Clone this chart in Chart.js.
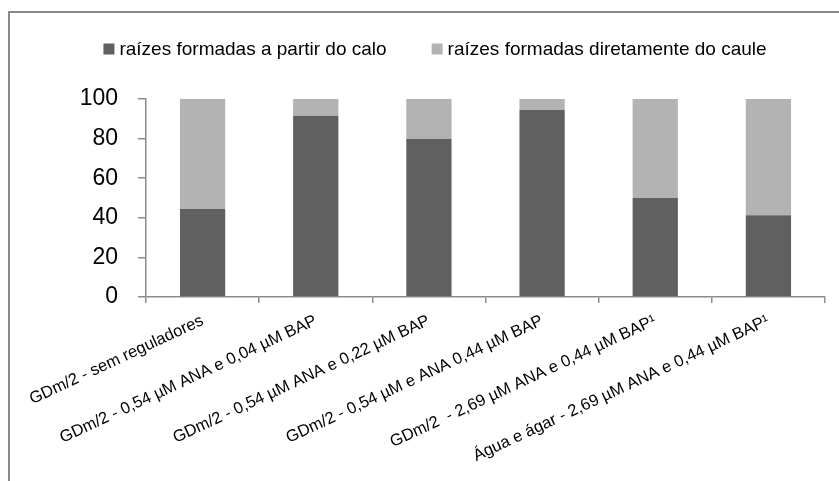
<!DOCTYPE html>
<html>
<head>
<meta charset="utf-8">
<script src="https://cdn.jsdelivr.net/npm/chart.js@4/dist/chart.umd.min.js"></script>
<style>
  html, body { margin: 0; padding: 0; background: #ffffff; }
  #wrap { width: 839px; height: 481px; position: relative; }
</style>
</head>
<body>
<div id="wrap"><canvas id="c" width="839" height="481"></canvas></div>
<script>
// Treatments (x-axis categories)
const categories = [
  'GDm/2 - sem reguladores',
  'GDm/2 - 0,54 µM ANA e 0,04 µM BAP',
  'GDm/2 - 0,54 µM ANA e 0,22 µM BAP',
  'GDm/2 - 0,54 µM e ANA 0,44 µM BAP',
  'GDm/2  - 2,69 µM ANA e 0,44 µM BAP¹',
  'Água e ágar - 2,69 µM ANA e 0,44 µM BAP¹'
];

// Percentage of roots formed from callus
const fromCallus = [44.4, 91.6, 79.8, 94.4, 50.0, 41.3];
// Percentage of roots formed directly from the stem
const fromStem = [55.6, 8.4, 20.2, 5.6, 50.0, 58.7];

const seriesNames = ['raízes formadas a partir do calo', 'raízes formadas diretamente do caule'];
const yTicks = [0, 20, 40, 60, 80, 100];

const FONT = '"Liberation Sans", Arial, sans-serif';
const AXIS_GRAY = '#8c8c8c';

// Outer frame of the chart object
const framePlugin = {
  id: 'frame',
  beforeDraw(chart) {
    const ctx = chart.ctx;
    ctx.save();
    ctx.strokeStyle = '#8a8a8a';
    ctx.lineWidth = 2;
    ctx.beginPath();
    ctx.moveTo(9, chart.height);
    ctx.lineTo(9, 12);
    ctx.lineTo(chart.width, 12);
    ctx.stroke();
    ctx.restore();
  }
};

// Legend row drawn above the plot, centered inside the frame
const legendPlugin = {
  id: 'topLegend',
  afterDraw(chart) {
    const ctx = chart.ctx;
    const box = 11, textGap = 5, itemGap = 45;
    ctx.save();
    ctx.font = '19px ' + FONT;
    ctx.textBaseline = 'middle';
    ctx.textAlign = 'left';
    const items = chart.data.datasets.map(ds => ({
      text: ds.label, color: ds.backgroundColor, w: ctx.measureText(ds.label).width
    }));
    let total = 0;
    items.forEach((it, i) => { total += box + textGap + it.w + (i < items.length - 1 ? itemGap : 0); });
    const cx = 435, cy = 49;
    let x = cx - total / 2;
    items.forEach(it => {
      ctx.fillStyle = it.color;
      ctx.fillRect(x, cy - box / 2, box, box);
      ctx.fillStyle = '#000000';
      ctx.fillText(it.text, x + box + textGap, cy + 1);
      x += box + textGap + it.w + itemGap;
    });
    ctx.restore();
  }
};

new Chart(document.getElementById('c'), {
  type: 'bar',
  data: {
    labels: categories,
    datasets: [
      { label: seriesNames[0], data: fromCallus, backgroundColor: '#606060',
        categoryPercentage: 1.0, barPercentage: 0.4 },
      { label: seriesNames[1], data: fromStem, backgroundColor: '#b3b3b3',
        categoryPercentage: 1.0, barPercentage: 0.4 }
    ]
  },
  options: {
    responsive: false,
    animation: false,
    layout: { padding: { top: 99, right: 14, bottom: 0, left: 0 } },
    plugins: {
      legend: { display: false },
      tooltip: { enabled: false }
    },
    scales: {
      x: {
        stacked: true,
        afterFit(s) { s.height = 481 - 297; },
        grid: { display: true, drawOnChartArea: false, drawTicks: true, tickLength: 6,
                color: AXIS_GRAY, lineWidth: 1.5, offset: true },
        border: { display: true, color: AXIS_GRAY, width: 1.5 },
        ticks: {
          color: '#000000', font: { family: FONT, size: 16.5 },
          minRotation: 25, maxRotation: 25, autoSkip: false, padding: 8
        }
      },
      y: {
        stacked: true,
        min: 0, max: 100,
        afterFit(s) { s.width = 146; },
        afterBuildTicks(s) { s.ticks = yTicks.map(v => ({ value: v })); },
        grid: { display: true, drawOnChartArea: false, drawTicks: true, tickLength: 8,
                color: AXIS_GRAY, lineWidth: 1.5 },
        border: { display: true, color: AXIS_GRAY, width: 1.5 },
        ticks: { color: '#000000', font: { family: FONT, size: 23 }, padding: 20 }
      }
    }
  },
  plugins: [framePlugin, legendPlugin]
});
</script>
</body>
</html>
